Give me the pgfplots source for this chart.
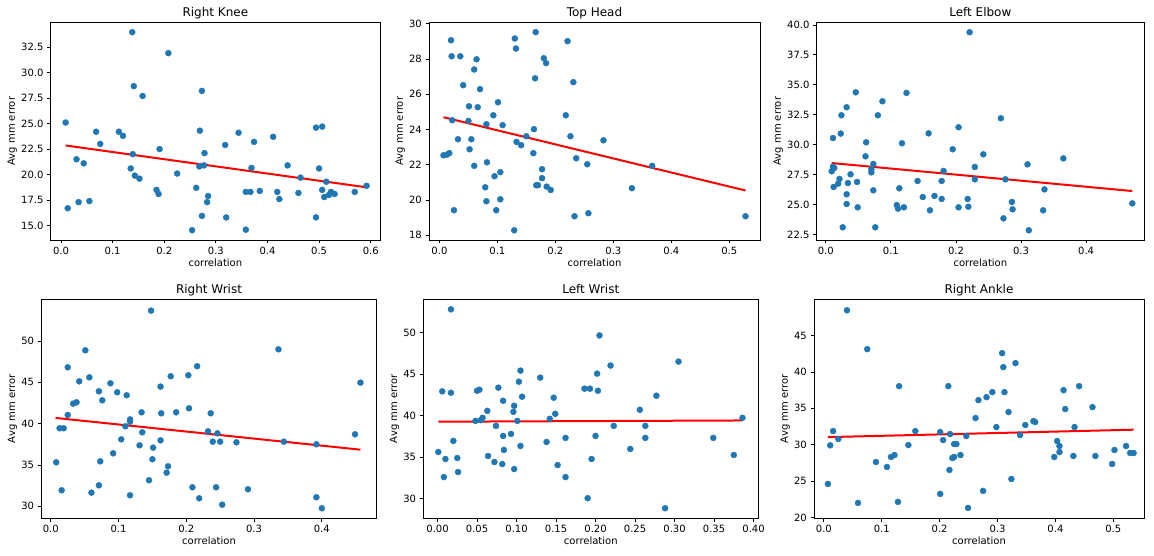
\documentclass[border=0pt]{standalone}
\usepackage{fontspec}
\setmainfont{DejaVu Sans}
\usepackage{pgfplots}
\pgfplotsset{compat=1.18}
\definecolor{mplblue}{HTML}{1F77B4}
\pgfplotsset{
  panel/.style={
    scale only axis,
    anchor=south west,
    axis line style={line width=0.8pt},
    every tick/.style={black, line width=0.8pt},
    major tick length=3.5pt,
    tick align=outside,
    xtick pos=left, ytick pos=left,
    tick label style={font=\fontsize{10}{12}\selectfont, inner sep=0pt},
    xticklabel style={yshift=-3.5pt},
    yticklabel style={xshift=-3.5pt},
    label style={font=\fontsize{10}{12}\selectfont, inner sep=4pt},
    title style={font=\fontsize{12}{14}\selectfont, at={(0.5,1)}, anchor=base},
    xlabel={correlation}, ylabel={Avg mm error},
    /pgf/number format/assume math mode=true,
  },
  dots/.style={only marks, mark=*, mark size=3pt, color=mplblue, mark options={draw=mplblue, fill=mplblue}},
  fit/.style={red, line width=2pt, no marks},
  onedec/.style={/pgf/number format/.cd, fixed, fixed zerofill, precision=1},
  twodec/.style={/pgf/number format/.cd, fixed, fixed zerofill, precision=2},
}
\begin{document}
\begin{tikzpicture}
\useasboundingbox (0,0) rectangle (1154pt,556pt);
% ---------------- Right Knee
\begin{axis}[panel, at={(50.7pt,316pt)}, width=329.3pt, height=217.7pt,
  title={Right Knee},
  xmin=-0.020, xmax=0.618, ymin=13.59, ymax=34.92,
  xtick={0,0.1,0.2,0.3,0.4,0.5,0.6}, ytick={15,17.5,20,22.5,25,27.5,30,32.5},
  xticklabel style={onedec}, yticklabel style={onedec}]
\addplot[dots] table {
x y
0.009 25.1
0.013 16.7
0.030 21.5
0.034 17.3
0.044 21.1
0.055 17.4
0.068 24.2
0.076 23.0
0.112 24.2
0.120 23.8
0.138 33.95
0.139 22.0
0.141 28.66
0.135 20.6
0.143 19.9
0.152 19.6
0.158 27.7
0.185 18.5
0.189 18.1
0.191 22.5
0.208 31.9
0.225 20.1
0.254 14.55
0.262 18.7
0.269 24.3
0.268 20.8
0.273 28.2
0.273 15.95
0.278 22.1
0.277 20.9
0.283 17.3
0.285 17.9
0.318 22.9
0.320 15.8
0.344 24.1
0.358 14.6
0.358 18.3
0.367 18.3
0.369 20.65
0.374 23.2
0.385 18.4
0.411 23.7
0.419 18.3
0.423 17.6
0.439 20.9
0.460 18.2
0.464 19.7
0.494 24.6
0.494 15.8
0.500 20.6
0.506 24.7
0.506 18.5
0.510 17.8
0.514 19.3
0.519 18.0
0.523 18.3
0.530 18.1
0.569 18.3
0.592 18.9
};
\addplot[fit] coordinates {(0.009,22.85) (0.592,18.75)};
\end{axis}
% ---------------- Top Head
\begin{axis}[panel, at={(429pt,316pt)}, width=331pt, height=217.7pt,
  title={Top Head},
  xmin=-0.018, xmax=0.553, ymin=17.73, ymax=30.09,
  xtick={0,0.1,0.2,0.3,0.4,0.5}, ytick={18,20,22,24,26,28,30},
  xticklabel style={onedec}]
\addplot[dots] table {
x y
0.007 22.54
0.013 22.58
0.017 22.66
0.020 29.07
0.021 28.16
0.022 24.53
0.025 19.42
0.032 23.45
0.036 28.16
0.041 26.52
0.050 24.49
0.051 25.32
0.052 22.88
0.055 23.45
0.060 27.41
0.060 21.94
0.064 27.99
0.066 25.27
0.070 26.29
0.079 20.72
0.081 24.30
0.081 19.93
0.082 22.14
0.093 24.81
0.095 21.35
0.098 19.42
0.101 25.55
0.105 20.04
0.105 21.58
0.109 24.25
0.129 18.28
0.130 29.17
0.132 28.60
0.133 23.30
0.141 23.11
0.150 23.62
0.162 22.66
0.163 24.02
0.165 26.91
0.166 29.53
0.167 20.84
0.170 20.84
0.177 21.75
0.177 21.24
0.180 28.05
0.184 27.77
0.185 20.76
0.192 20.57
0.218 24.81
0.221 29.02
0.226 23.62
0.231 26.69
0.233 19.08
0.236 22.37
0.255 22.03
0.257 19.25
0.283 23.39
0.332 20.67
0.367 21.94
0.528 19.08
};
\addplot[fit] coordinates {(0.007,24.70) (0.528,20.54)};
\end{axis}
% ---------------- Left Elbow
\begin{axis}[panel, at={(816.7pt,316pt)}, width=327.3pt, height=217.7pt,
  title={Left Elbow},
  xmin=-0.014, xmax=0.489, ymin=22.03, ymax=40.22,
  xtick={0,0.1,0.2,0.3,0.4}, ytick={22.5,25,27.5,30,32.5,35,37.5,40},
  xticklabel style={onedec}, yticklabel style={onedec}]
\addplot[dots] table {
x y
0.009 27.77
0.011 28.16
0.011 30.55
0.012 26.46
0.013 28.05
0.019 26.74
0.021 27.13
0.023 30.92
0.024 32.45
0.026 23.09
0.032 25.85
0.032 25.04
0.032 33.12
0.034 26.79
0.038 27.52
0.046 34.37
0.048 26.88
0.049 24.76
0.061 29.02
0.062 30.19
0.070 27.94
0.070 27.68
0.073 28.38
0.073 26.18
0.076 23.09
0.080 32.45
0.087 33.62
0.109 24.95
0.111 24.65
0.113 26.35
0.117 30.11
0.120 24.76
0.124 34.32
0.141 26.96
0.149 25.62
0.158 30.94
0.160 24.51
0.167 25.71
0.178 25.46
0.178 26.96
0.181 27.80
0.195 29.61
0.204 31.45
0.204 24.76
0.218 25.46
0.219 24.81
0.221 39.39
0.229 28.13
0.229 27.10
0.242 29.19
0.269 32.20
0.273 23.84
0.276 27.10
0.286 25.21
0.287 24.59
0.310 28.35
0.312 22.84
0.334 24.51
0.336 26.26
0.365 28.85
0.471 25.09
};
\addplot[fit] coordinates {(0.009,28.46) (0.471,26.12)};
\end{axis}
% ---------------- Right Wrist
\begin{axis}[panel, at={(41.3pt,37.7pt)}, width=335.4pt, height=219pt,
  title={Right Wrist},
  xmin=-0.014, xmax=0.481, ymin=28.55, ymax=55.04,
  xtick={0,0.1,0.2,0.3,0.4}, ytick={30,35,40,45,50},
  xticklabel style={onedec}]
\addplot[dots] table {
x y
0.008 35.32
0.013 39.44
0.016 31.94
0.019 39.44
0.025 46.81
0.025 41.05
0.033 42.42
0.038 42.58
0.042 45.12
0.051 48.87
0.057 45.60
0.060 31.65
0.071 43.91
0.071 32.54
0.073 35.44
0.076 42.82
0.088 44.88
0.092 36.41
0.098 43.79
0.104 38.10
0.110 39.68
0.112 43.43
0.117 31.33
0.117 40.52
0.117 40.24
0.131 37.38
0.134 41.37
0.135 38.95
0.145 33.15
0.148 53.67
0.150 35.69
0.151 37.10
0.162 44.48
0.162 37.98
0.163 41.25
0.171 34.07
0.173 34.84
0.177 45.73
0.185 41.37
0.203 45.85
0.204 41.85
0.209 32.30
0.216 46.94
0.219 30.97
0.232 39.07
0.236 41.25
0.239 37.82
0.244 32.30
0.246 38.83
0.250 37.82
0.253 30.20
0.274 37.74
0.291 32.06
0.336 48.99
0.344 37.82
0.392 37.50
0.392 31.09
0.400 29.76
0.449 38.71
0.457 44.96
};
\addplot[fit] coordinates {(0.007,40.69) (0.457,36.85)};
\end{axis}
% ---------------- Left Wrist
\begin{axis}[panel, at={(423.3pt,37.7pt)}, width=335pt, height=219pt,
  title={Left Wrist},
  xmin=-0.018, xmax=0.406, ymin=27.62, ymax=53.99,
  xtick={0,0.05,0.1,0.15,0.2,0.25,0.3,0.35,0.4}, ytick={30,35,40,45,50},
  xticklabel style={twodec}]
\addplot[dots] table {
x y
0.001 35.60
0.006 42.90
0.008 32.58
0.010 34.76
0.017 52.78
0.017 42.74
0.020 36.94
0.025 34.88
0.026 33.19
0.048 39.35
0.050 42.98
0.053 43.10
0.055 39.44
0.057 39.72
0.063 40.56
0.064 35.12
0.072 34.40
0.074 38.75
0.077 43.35
0.082 34.15
0.083 41.77
0.083 37.54
0.084 35.85
0.093 37.78
0.096 40.44
0.097 41.17
0.097 33.55
0.101 39.35
0.103 44.07
0.105 45.40
0.105 36.33
0.107 42.26
0.130 44.56
0.138 36.81
0.142 39.60
0.147 42.14
0.149 40.20
0.152 34.03
0.162 37.30
0.162 32.58
0.186 43.23
0.190 30.04
0.193 43.23
0.195 34.76
0.200 37.54
0.202 45.04
0.203 42.98
0.205 49.64
0.219 46.01
0.223 38.75
0.244 35.97
0.256 40.69
0.263 38.75
0.263 37.30
0.277 42.38
0.288 28.83
0.305 46.49
0.349 37.30
0.375 35.24
0.386 39.72
};
\addplot[fit] coordinates {(0.001,39.25) (0.386,39.40)};
\end{axis}
% ---------------- Right Ankle
\begin{axis}[panel, at={(814pt,37.7pt)}, width=330pt, height=219pt,
  title={Right Ankle},
  xmin=-0.017, xmax=0.553, ymin=19.9, ymax=49.98,
  xtick={0,0.1,0.2,0.3,0.4,0.5}, ytick={20,25,30,35,40,45},
  xticklabel style={onedec}]
\addplot[dots] table {
x y
0.007 24.62
0.011 29.92
0.016 31.88
0.025 30.79
0.040 48.47
0.059 22.01
0.075 43.13
0.090 27.63
0.109 26.95
0.116 28.32
0.122 28.59
0.128 22.15
0.130 38.05
0.146 29.96
0.158 31.88
0.201 23.25
0.201 31.75
0.206 30.65
0.215 38.05
0.217 26.54
0.218 31.47
0.222 28.18
0.225 28.32
0.225 30.10
0.229 30.10
0.236 28.59
0.246 31.20
0.249 21.33
0.262 33.67
0.267 36.13
0.275 23.66
0.281 36.54
0.291 37.23
0.298 32.43
0.308 42.58
0.310 40.66
0.312 37.23
0.319 34.49
0.324 25.30
0.331 41.21
0.339 31.33
0.348 32.71
0.362 33.25
0.365 33.12
0.398 28.32
0.403 30.51
0.407 29.83
0.407 29.00
0.414 37.50
0.417 34.90
0.431 28.46
0.433 32.43
0.441 38.05
0.464 35.17
0.469 28.46
0.498 27.36
0.502 29.28
0.522 29.83
0.529 28.87
0.535 28.87
};
\addplot[fit] coordinates {(0.007,31.05) (0.535,32.07)};
\end{axis}
\end{tikzpicture}
\end{document}
